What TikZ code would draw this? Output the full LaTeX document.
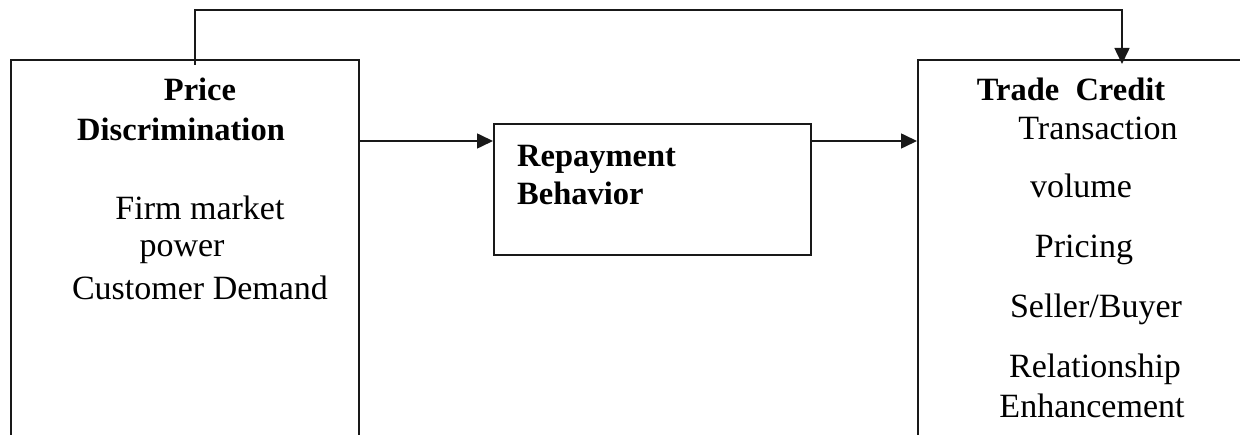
\documentclass[tikz,border=0pt]{standalone}
\usepackage{fontspec}
\setmainfont{Liberation Serif}
\usetikzlibrary{arrows.meta}
\begin{document}
\begin{tikzpicture}[x=1pt,y=-1pt,
  box/.style={draw=black!90,line width=1.6pt,inner sep=0pt,anchor=north west},
  arr/.style={line width=1.6pt,draw=black!90,-{Triangle[length=16pt,width=15pt]}},
  tb/.style={anchor=base,inner sep=0pt,font=\fontsize{32.5}{38}\selectfont\bfseries},
  tr/.style={anchor=base,inner sep=0pt,font=\fontsize{34}{40}\selectfont}]
\useasboundingbox (0,0) rectangle (1240,435);
\clip (0,0) rectangle (1240,435);
\node[box,minimum width=348pt,minimum height=420pt] (pd) at (10,59) {};
\node[box,minimum width=317pt,minimum height=131pt] (rb) at (493,123) {};
\node[box,minimum width=400pt,minimum height=420pt] (tc) at (917,59) {};
% texts
\node[tb] (t1) at (200,101) {Price};
\node[tb] (t2) at (181,141) {Discrimination};
\node[tr] (t3) at (200,220) {Firm market};
\node[tr] (t4) at (182,257) {power};
\node[tr] (t5) at (200,300) {Customer Demand};
\node[tb,anchor=base west] (r1) at (517,167) {Repayment};
\node[tb,anchor=base west] (r2) at (517,205) {Behavior};
\node[tb] (c0) at (1071,101) {Trade\ \ Credit};
\node[tr] (c1) at (1098,140) {Transaction};
\node[tr] (c2) at (1081,198) {volume};
\node[tr] (c3) at (1084,258) {Pricing};
\node[tr] (c4) at (1096,318) {Seller/Buyer};
\node[tr] (c5) at (1095,378) {Relationship};
\node[tr] (c6) at (1092,418) {Enhancement};
% connectors
\coordinate (ya) at (0,141);
\coordinate (fb1) at (195,10);
\coordinate (fb2) at (1122,10);
\draw[arr] (pd.east |- ya) -- (rb.west |- ya);
\draw[arr] (rb.east |- ya) -- (tc.west |- ya);
\draw[arr] ([yshift=-6pt]pd.north -| fb1) -- (fb1) -- (fb2) -- ([yshift=-5pt]tc.north -| fb2);
\end{tikzpicture}
\end{document}
